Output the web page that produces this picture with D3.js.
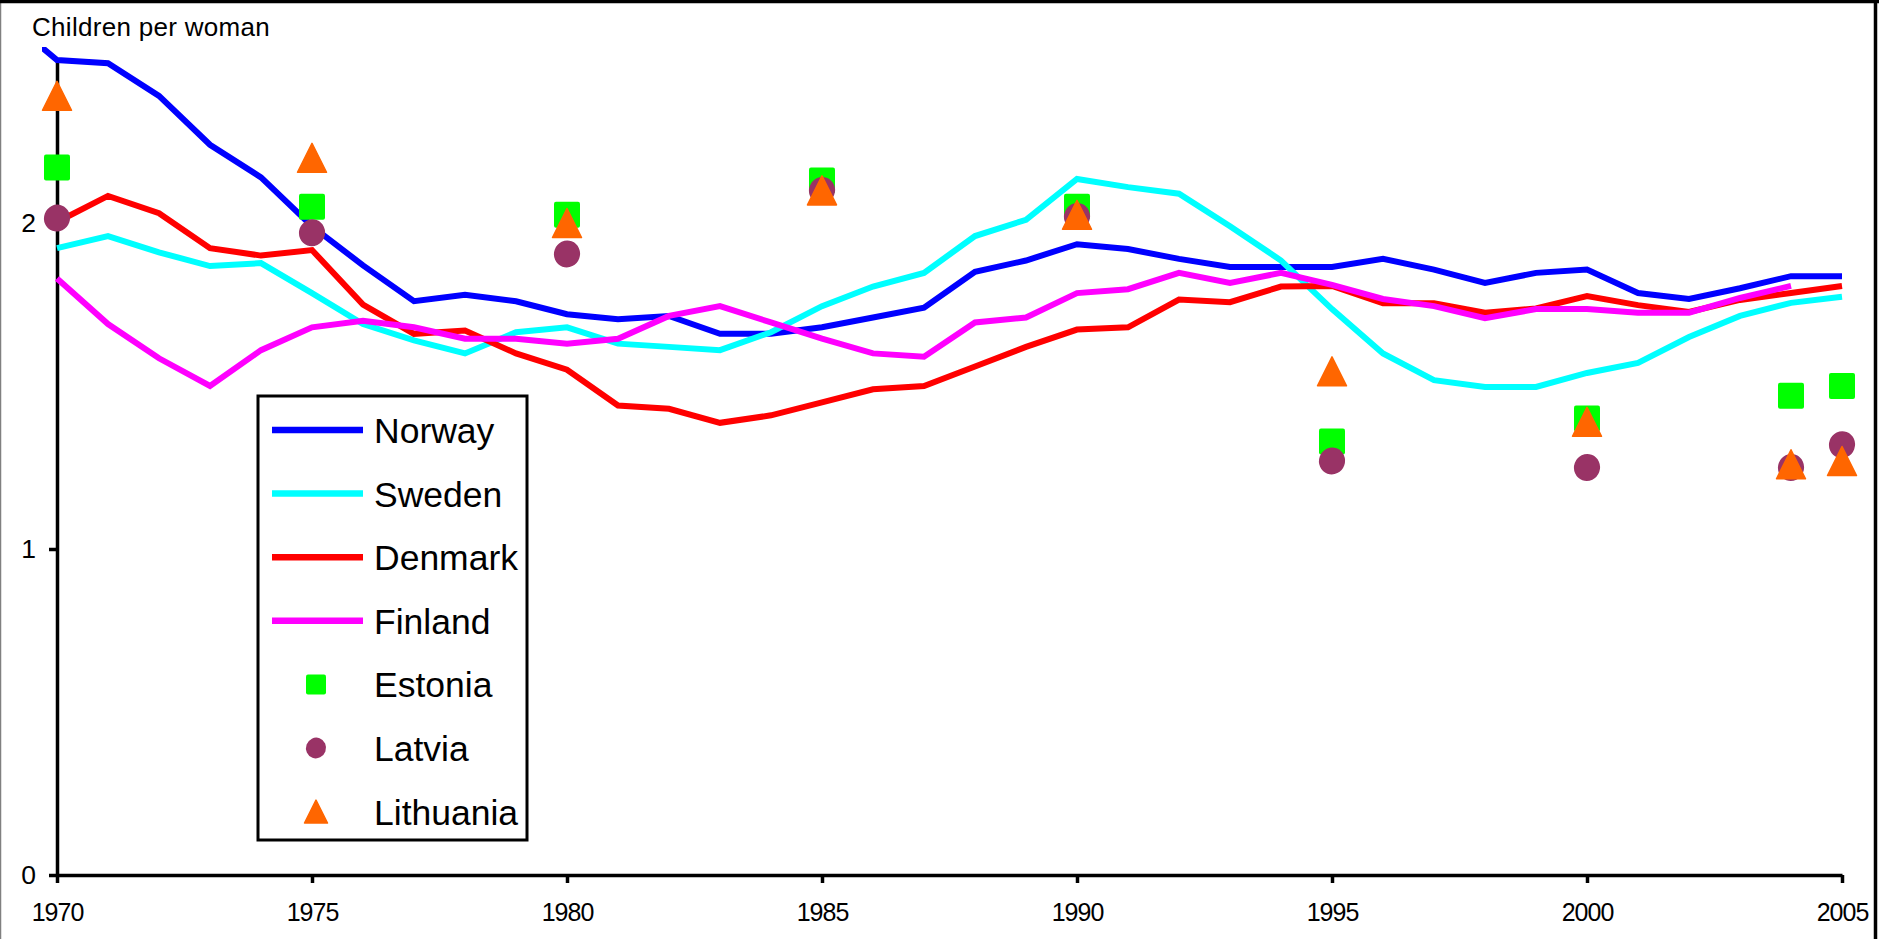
<!DOCTYPE html>
<html>
<head>
<meta charset="utf-8">
<script src="https://cdn.jsdelivr.net/npm/d3@7"></script>
<style>
  html, body { margin: 0; padding: 0; background: #fff; }
  svg { display: block; }
  text { font-family: "Liberation Sans", Arial, sans-serif; fill: #000; }
</style>
</head>
<body>
<svg id="chart" width="1879" height="939"></svg>
<script>
// Total fertility rate, children per woman
const lineYears = d3.range(1970, 2006);
const norwayYears = d3.range(1969, 2006);
const finlandYears = d3.range(1970, 2005);
const markerYears = [1970, 1975, 1980, 1985, 1990, 1995, 2000, 2004, 2005];

const norway = [2.63, 2.50, 2.49, 2.39, 2.24, 2.14, 1.99, 1.87, 1.76, 1.78, 1.76,
  1.72, 1.705, 1.715, 1.66, 1.66, 1.68, 1.71, 1.74, 1.85, 1.885,
  1.935, 1.92, 1.89, 1.865, 1.865, 1.865, 1.89, 1.857, 1.816, 1.847,
  1.857, 1.785, 1.767, 1.80, 1.837, 1.837];
const sweden = [1.923, 1.96, 1.91, 1.868, 1.877, 1.785, 1.69, 1.64, 1.60, 1.665,
  1.68, 1.63, 1.62, 1.61, 1.665, 1.745, 1.805, 1.847, 1.96, 2.01,
  2.135, 2.11, 2.09, 1.99, 1.885, 1.736, 1.60, 1.518, 1.497, 1.497,
  1.54, 1.571, 1.65, 1.715, 1.755, 1.774];
const denmark = [2.003, 2.083, 2.03, 1.923, 1.90, 1.917, 1.75, 1.66, 1.67, 1.60,
  1.55, 1.44, 1.43, 1.387, 1.41, 1.45, 1.49, 1.50, 1.56, 1.62,
  1.673, 1.68, 1.765, 1.757, 1.805, 1.807, 1.754, 1.754, 1.725, 1.738,
  1.776, 1.748, 1.727, 1.764, 1.785, 1.807];
const finland = [1.83, 1.69, 1.585, 1.50, 1.61, 1.68, 1.70, 1.68, 1.645, 1.645,
  1.63, 1.645, 1.715, 1.745, 1.695, 1.645, 1.60, 1.59, 1.695, 1.71,
  1.785, 1.797, 1.847, 1.816, 1.847, 1.81, 1.767, 1.745, 1.708, 1.736,
  1.736, 1.725, 1.725, 1.77, 1.807];

const estonia   = [2.17, 2.05, 2.025, 2.13, 2.05, 1.33, 1.40, 1.47, 1.50];
const latvia    = [2.015, 1.97, 1.905, 2.10, 2.02, 1.27, 1.25, 1.25, 1.32];
const lithuania = [2.39, 2.20, 2.00, 2.10, 2.025, 1.545, 1.39, 1.26, 1.27];

const xTicks = [1970, 1975, 1980, 1985, 1990, 1995, 2000, 2005];
const yTicks = [0, 1, 2];
const yMax = 2.5;
const yTitle = "Children per woman";

const lineSeries = [
  { name: "Norway",  years: norwayYears,  values: norway,  color: "#0000FF" },
  { name: "Sweden",  years: lineYears,    values: sweden,  color: "#00FFFF" },
  { name: "Denmark", years: lineYears,    values: denmark, color: "#FF0000" },
  { name: "Finland", years: finlandYears, values: finland, color: "#FF00FF" }
];
const markerSeries = [
  { name: "Estonia",   values: estonia,   color: "#00FF00", shape: "square" },
  { name: "Latvia",    values: latvia,    color: "#993366", shape: "circle" },
  { name: "Lithuania", values: lithuania, color: "#FF6600", shape: "triangle" }
];

const svg = d3.select("#chart");
const W = 1879, H = 939;
const plot = { left: 57, right: 1842, top: 60, bottom: 875 };

const x = d3.scaleLinear().domain([1970, 2005]).range([plot.left, plot.right]);
const y = d3.scaleLinear().domain([0, yMax]).range([plot.bottom, plot.top]);

svg.append("rect").attr("width", W).attr("height", H).attr("fill", "#fff");

// outer frame
svg.append("line").attr("x1", 0.5).attr("x2", 0.5).attr("y1", 0).attr("y2", H)
  .attr("stroke", "#808080").attr("stroke-width", 1.5);
svg.append("line").attr("x1", 0).attr("x2", W).attr("y1", 1.5).attr("y2", 1.5)
  .attr("stroke", "#000").attr("stroke-width", 3.5);
svg.append("line").attr("x1", 1875.5).attr("x2", 1875.5).attr("y1", 0).attr("y2", H)
  .attr("stroke", "#000").attr("stroke-width", 3.5);

// axes
const yAxis = svg.append("g")
  .attr("transform", `translate(${plot.left},0)`)
  .call(d3.axisLeft(y).tickValues(yTicks).tickSize(8).tickSizeOuter(0).tickPadding(13)
    .tickFormat(d3.format("d")));
const xAxis = svg.append("g")
  .attr("transform", `translate(0,${plot.bottom})`)
  .call(d3.axisBottom(x).tickValues(xTicks).tickSize(8).tickSizeOuter(0).tickPadding(20)
    .tickFormat(d3.format("d")));
[yAxis, xAxis].forEach(g => {
  g.select(".domain").attr("stroke", "#000").attr("stroke-width", 3.5);
  g.selectAll(".tick line").attr("stroke", "#000").attr("stroke-width", 3.5);
  g.selectAll(".tick text").attr("font-size", 25).attr("fill", "#000")
    .attr("font-family", "'Liberation Sans', Arial, sans-serif");
});
yAxis.selectAll(".tick text").attr("font-size", 26.5);
xAxis.selectAll(".tick text").attr("letter-spacing", "-1px");

// line series, clipped to the chart region
svg.append("clipPath").attr("id", "plotClip")
  .append("rect").attr("x", 42).attr("y", 47).attr("width", 1830).attr("height", 840);

const line = d3.line().x(d => x(d[0])).y(d => y(d[1]));
const linesG = svg.append("g").attr("clip-path", "url(#plotClip)");
lineSeries.forEach(s => {
  linesG.append("path")
    .datum(s.years.map((yr, i) => [yr, s.values[i]]))
    .attr("d", line)
    .attr("fill", "none")
    .attr("stroke", s.color)
    .attr("stroke-width", 6)
    .attr("stroke-linejoin", "miter");
});

// marker shapes
function drawMarker(g, shape, color, cx, cy, size) {
  const h = size / 2;
  if (shape === "square") {
    g.append("rect").attr("x", cx - h).attr("y", cy - h)
      .attr("width", size).attr("height", size).attr("rx", 2)
      .attr("fill", color);
  } else if (shape === "circle") {
    g.append("ellipse").attr("cx", cx).attr("cy", cy)
      .attr("rx", h).attr("ry", h * 1.04)
      .attr("transform", `rotate(20,${cx},${cy})`)
      .attr("fill", color);
  } else {
    g.append("path")
      .attr("d", `M${cx},${cy - h}L${cx + h},${cy + h}L${cx - h},${cy + h}Z`)
      .attr("fill", color).attr("stroke", color)
      .attr("stroke-width", 1.5).attr("stroke-linejoin", "round");
  }
}

const markersG = svg.append("g");
const markerSize = { square: 26, circle: 26, triangle: 29 };
markerSeries.forEach(s => {
  markerYears.forEach((yr, i) => {
    drawMarker(markersG, s.shape, s.color, x(yr), y(s.values[i]), markerSize[s.shape]);
  });
});

// legend
const legend = svg.append("g");
legend.append("rect")
  .attr("x", 258).attr("y", 396).attr("width", 269).attr("height", 444)
  .attr("fill", "#fff").attr("stroke", "#000").attr("stroke-width", 3);
const legendItems = lineSeries.map(s => ({ name: s.name, color: s.color, type: "line" }))
  .concat(markerSeries.map(s => ({ name: s.name, color: s.color, type: s.shape })));
const legendSize = { square: 20, circle: 20, triangle: 23 };
legendItems.forEach((d, i) => {
  const cy = 430 + i * 63.6;
  if (d.type === "line") {
    legend.append("line").attr("x1", 272).attr("x2", 363).attr("y1", cy).attr("y2", cy)
      .attr("stroke", d.color).attr("stroke-width", 6.5);
  } else {
    drawMarker(legend, d.type, d.color, 316, cy, legendSize[d.type]);
  }
  legend.append("text").attr("x", 374).attr("y", cy + 13)
    .attr("font-size", 35.5).text(d.name);
});

// axis title
svg.append("text").attr("x", 32).attr("y", 36)
  .attr("font-size", 26).attr("letter-spacing", "0.3px").text(yTitle);
</script>
</body>
</html>
